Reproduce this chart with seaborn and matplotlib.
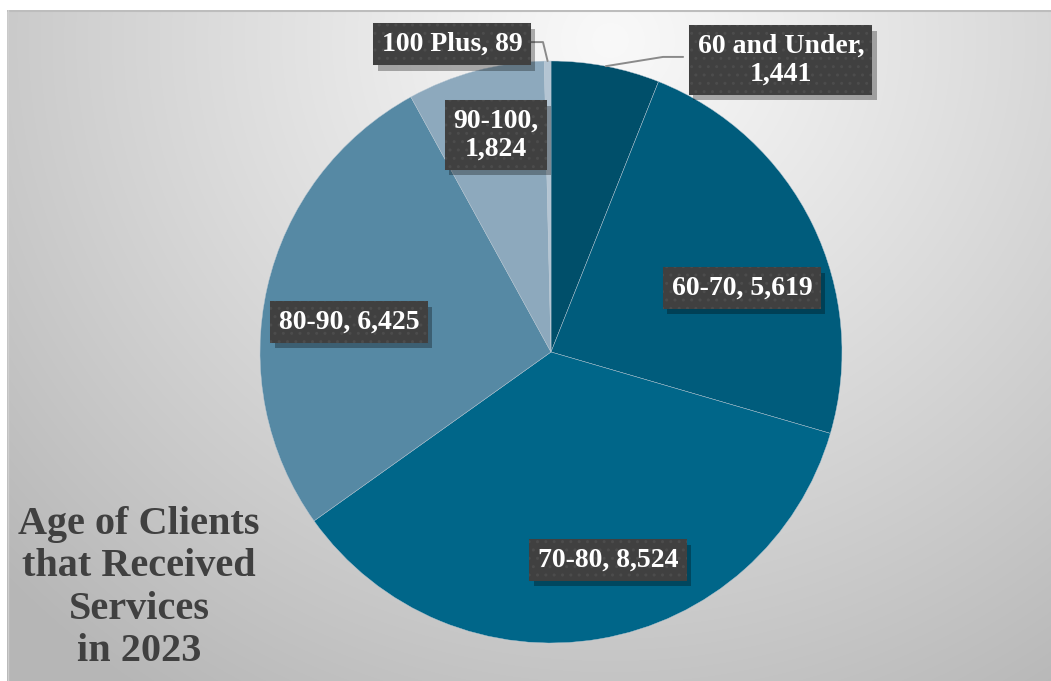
import numpy as np
import matplotlib
matplotlib.use("Agg")
import matplotlib.pyplot as plt
import matplotlib.patheffects as pe
import seaborn as sns

# ---- data ----
categories = ["60 and Under", "60-70", "70-80", "80-90", "90-100", "100 Plus"]
values = [1441, 5619, 8524, 6425, 1824, 89]
label_texts = ["60 and Under,\n1,441", "60-70, 5,619", "70-80, 8,524",
               "80-90, 6,425", "90-100,\n1,824", "100 Plus, 89"]
colors = ["#004F6A", "#005C7C", "#006689", "#5689A4", "#8DA9BD", "#B4C5D3"]
title_text = "Age of Clients\nthat Received\nServices\nin 2023"

# label positions (data units of the pie axes, radius = 1)
label_pos = [(0.79, 1.003), (0.656, 0.22), (0.196, -0.715),
             (-0.694, 0.103), (-0.189, 0.746), (-0.34, 1.058)]

sns.set_theme(style="white")
plt.rcParams['font.family'] = ['Liberation Serif', 'DejaVu Serif']

W, H = 1051, 681
fig = plt.figure(figsize=(W / 100, H / 100), dpi=100)
fig.patch.set_facecolor("white")

# ---- background gradient panel ----
bx0, by0 = 7, 10
bg = fig.add_axes([bx0 / W, 0, 1 - bx0 / W, (H - by0) / H])
yy, xx = np.mgrid[by0:H, bx0:W]
d = np.sqrt(((xx - 610) / 1.0) ** 2 + ((yy - 40) * 1.05) ** 2)
val = 249 - 50 * np.clip(d / 640, 0, 1.3) ** 1.1
img = np.clip(val, 0, 255) / 255.0
bg.imshow(np.dstack([img, img, img]), aspect="auto", extent=(0, 1, 0, 1),
          origin="upper", interpolation="bilinear")
bg.plot([0, 1], [0.999, 0.999], color="#bdbdbd", lw=1.5, transform=bg.transAxes)
bg.plot([0.0005, 0.0005], [0, 1], color="#cfcfcf", lw=1.0, transform=bg.transAxes)
bg.set_axis_off()

# ---- pie ----
cx, cy, R = 551, 352, 291
ax = fig.add_axes([(cx - R) / W, (H - cy - R) / H, 2 * R / W, 2 * R / H])
wedges, _ = ax.pie(values, colors=colors, startangle=90, counterclock=False,
                   radius=1, wedgeprops=dict(edgecolor="#b8c8d4", linewidth=0.3))
ax.set_xlim(-1, 1)
ax.set_ylim(-1, 1)
ax.set_aspect("auto")
ax.set_axis_off()

# leader lines for small slices
def edge_point(w):
    ang = np.deg2rad((w.theta1 + w.theta2) / 2)
    return np.cos(ang), np.sin(ang)

ex, ey = edge_point(wedges[5])
ax.plot([ex, -0.0275, -0.072], [ey, 1.065, 1.065], color="#8a8a8a", lw=1.4,
        clip_on=False, zorder=3)
ex, ey = edge_point(wedges[0])
ax.plot([ex, 0.385, 0.454], [ey, 1.014, 1.014], color="#8a8a8a", lw=1.4,
        clip_on=False, zorder=3)

plt.rcParams['hatch.linewidth'] = 1.0
for txt, (lx, ly) in zip(label_texts, label_pos):
    common = dict(ha="center", va="center", fontsize=20, fontweight="bold",
                  linespacing=1.15, clip_on=False)
    # shadow box
    s = ax.text(lx, ly, txt, color="none", zorder=4,
                bbox=dict(boxstyle="square,pad=0.3", fc="#404040", ec="none", lw=0),
                **common)
    s.get_bbox_patch().set_path_effects([
        pe.SimplePatchShadow(offset=(3, -4), shadow_rgbFace="black", alpha=0.3),
        pe.Normal()])
    # dotted box with text
    ax.text(lx, ly, txt, color="white", zorder=5,
            bbox=dict(boxstyle="square,pad=0.3", fc="#404040", ec="#4c4c4c",
                      hatch="..", lw=0.01), **common)

# ---- title ----
fig.text(139 / W, 1 - 588 / H, title_text, ha="center", va="center",
         fontsize=29, fontweight="bold", color="#404040", linespacing=1.2)

fig.savefig("out.png", dpi=100, facecolor=fig.get_facecolor())
